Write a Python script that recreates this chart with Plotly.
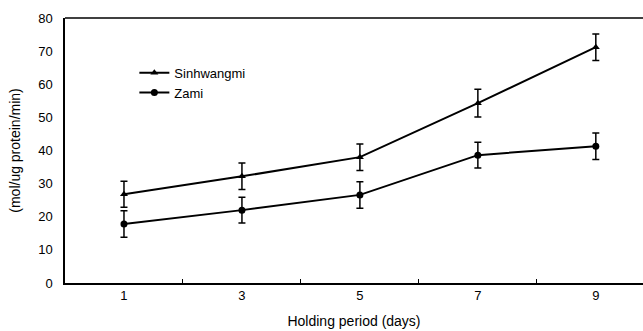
import plotly.graph_objects as go

days = ["1", "3", "5", "7", "9"]
sinhwangmi = [26.8, 32.2, 38.0, 54.3, 71.2]
sinhwangmi_err = [3.9, 4.0, 4.0, 4.2, 4.0]
zami = [17.8, 22.0, 26.6, 38.6, 41.3]
zami_err = [4.0, 3.9, 4.0, 3.9, 4.0]
y_ticks = [0, 10, 20, 30, 40, 50, 60, 70, 80]

FONT = "Liberation Sans, Arial, sans-serif"

fig = go.Figure()
fig.add_trace(go.Scatter(
    x=days, y=sinhwangmi, name="Sinhwangmi", mode="lines+markers",
    line=dict(color="black", width=2),
    marker=dict(symbol="triangle-up", size=7, color="black"),
    error_y=dict(type="data", array=sinhwangmi_err, visible=True,
                 color="black", thickness=1.5, width=3.5),
))
fig.add_trace(go.Scatter(
    x=days, y=zami, name="Zami", mode="lines+markers",
    line=dict(color="black", width=2),
    marker=dict(symbol="circle", size=7, color="black"),
    error_y=dict(type="data", array=zami_err, visible=True,
                 color="black", thickness=1.5, width=3.5),
))

fig.update_layout(
    width=643, height=331,
    margin=dict(l=65, r=0, t=18, b=48),
    paper_bgcolor="white", plot_bgcolor="white",
    font=dict(family=FONT, color="black", size=13),
    showlegend=True,
    legend=dict(x=0.12, y=0.85, xanchor="left", yanchor="top",
                bgcolor="rgba(0,0,0,0)", font=dict(size=13),
                tracegroupgap=0, itemwidth=30),
    xaxis=dict(
        type="category", range=[-0.5, 4.4],
        showline=True, linecolor="black", linewidth=1.5,
        ticks="inside", tickson="boundaries", ticklen=4, tickcolor="black",
        showgrid=False, zeroline=False,
        tickfont=dict(size=13),
        title=dict(text="Holding period (days)", font=dict(size=14), standoff=14),
    ),
    yaxis=dict(
        range=[0, 80], tickvals=y_ticks,
        showline=True, linecolor="black", linewidth=1.5,
        ticks="", showgrid=False, zeroline=False,
        tickfont=dict(size=13), ticklabelstandoff=8,
        title=dict(text="(mol/ug protein/min)", font=dict(size=14), standoff=14),
    ),
    shapes=[dict(type="line", xref="paper", yref="paper", x0=0, x1=1, y0=1, y1=1,
                 line=dict(color="black", width=1.5))],
)

fig.write_html(
    "out.html",
    config={"displayModeBar": False},
    post_script="document.body.style.margin='0';document.body.style.overflow='hidden';",
)
